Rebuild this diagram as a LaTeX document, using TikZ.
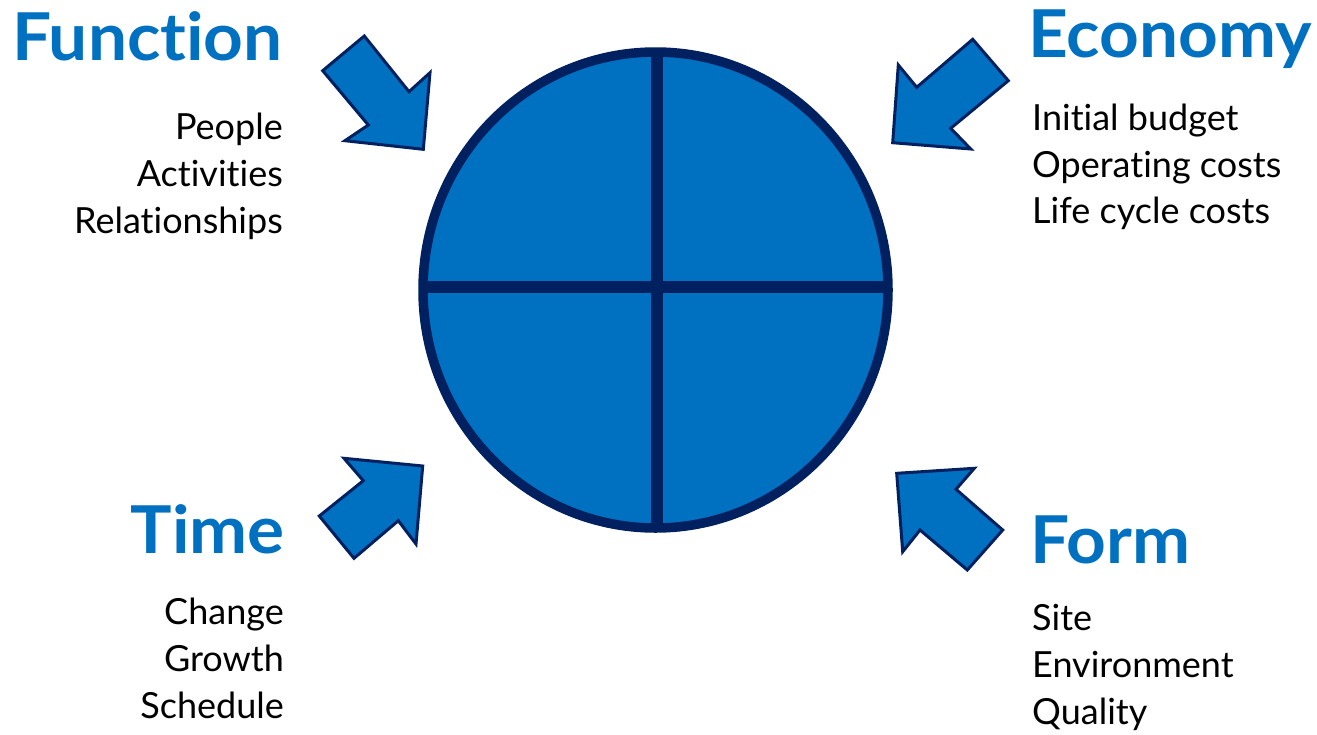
\documentclass[tikz,border=0pt]{standalone}
\usepackage{fontspec}
\setmainfont{Lato}[Ligatures=NoCommon]
\newfontfamily\titlefont{Lato}[Ligatures=NoCommon,FakeStretch=1.05]
\definecolor{fillblue}{HTML}{0070C0}
\definecolor{navy}{HTML}{002060}
\begin{document}
\begin{tikzpicture}[x=1pt,y=-1pt,
  title/.style={inner sep=0pt,text=fillblue,font=\titlefont\fontsize{66}{66}\selectfont\bfseries},
  item/.style={inner sep=0pt,text=black,font=\fontsize{36}{36}\selectfont},
  bigarrow/.style={fill=fillblue,draw=navy,line width=3pt,line join=miter},
  wheel/.style={fill=fillblue,draw=navy,line width=9.5pt},
  divider/.style={draw=navy,line width=12pt}]
\useasboundingbox (0,0) rectangle (1317,734);
% wheel
\coordinate (c) at (655.5,290);
\draw[wheel] (c) ellipse [x radius=232.5pt, y radius=238pt];
\coordinate (vt) at (657,52);
\coordinate (vb) at (657,528);
\coordinate (hl) at (423,287);
\coordinate (hr) at (888,287);
\draw[divider] (vt) -- (vb);
\draw[divider] (hl) -- (hr);
% arrows
\draw[bigarrow] (322.7,70.7) -- (364.3,36) -- (409,91.7) -- (430,72.7) -- (423.3,149.3) -- (345,140.7) -- (368.3,125) -- cycle;
\draw[bigarrow] (972.7,39.3) -- (1008.3,80.7) -- (950.7,128.3) -- (970.7,149) -- (892.7,142.7) -- (898.3,65) -- (916.7,87.3) -- cycle;
\draw[bigarrow] (344,458.3) -- (422.7,466) -- (416,544) -- (398.3,520.7) -- (354,558.3) -- (319.3,516) -- (363.3,480.7) -- cycle;
\draw[bigarrow] (896.7,473.3) -- (974.3,468.3) -- (956,489.3) -- (1002.7,530) -- (967.3,570) -- (920,530) -- (902.7,551.7) -- cycle;
% titles
\node[title,anchor=base east] (function) at (283,60) {Function};
\node[title,anchor=base west] (economy) at (1028,57) {Economy};
\node[title,anchor=base east] (time) at (285,553) {Time};
\node[title,anchor=base west] (form) at (1030,563) {Form};
% items
\node[item,anchor=base east] (f1) at (283,139) {People};
\node[item,anchor=base east] (f2) at (283,186) {Activities};
\node[item,anchor=base east] (f3) at (283,233) {Relationships};
\node[item,anchor=base west] (e1) at (1032,130) {Initial budget};
\node[item,anchor=base west] (e2) at (1032,177) {Operating costs};
\node[item,anchor=base west] (e3) at (1032,223) {Life cycle costs};
\node[item,anchor=base east] (t1) at (284,624) {Change};
\node[item,anchor=base east] (t2) at (284,671) {Growth};
\node[item,anchor=base east] (t3) at (284,718) {Schedule};
\node[item,anchor=base west] (m1) at (1032,630) {Site};
\node[item,anchor=base west] (m2) at (1032,677) {Environment};
\node[item,anchor=base west] (m3) at (1032,724) {Quality};
\end{tikzpicture}
\end{document}
